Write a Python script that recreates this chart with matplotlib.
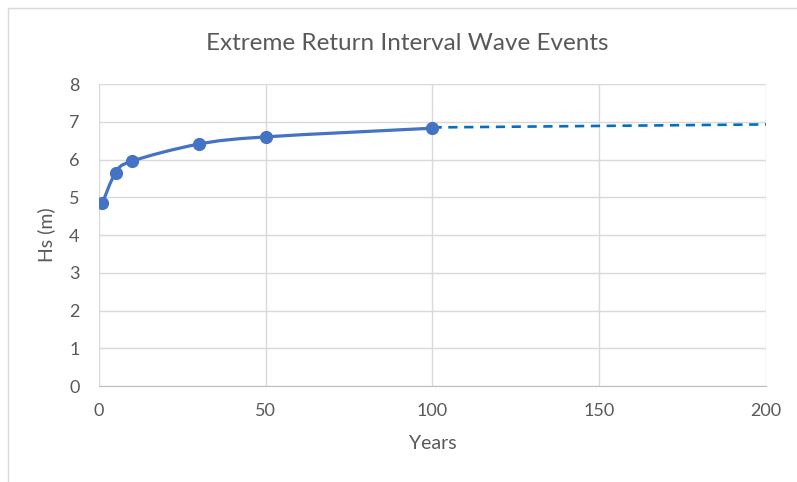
import numpy as np
import matplotlib
matplotlib.use('Agg')
import matplotlib.pyplot as plt
from matplotlib.path import Path
from matplotlib.patches import PathPatch, Rectangle

# return period (years) vs significant wave height
years = [1, 5, 10, 30, 50, 100]
hs = [4.84, 5.65, 5.96, 6.41, 6.60, 6.83]

# trendline extension past 100 years
trend_years = [100, 200]
trend_hs = [6.85, 6.93]

x_ticks = [0, 50, 100, 150, 200]
y_ticks = [0, 1, 2, 3, 4, 5, 6, 7, 8]

plt.rcParams['font.family'] = ['Lato', 'DejaVu Sans']
text_col = '#595959'
line_col = '#4472C4'
trend_col = '#0070C0'
grid_col = '#D9D9D9'

fig = plt.figure(figsize=(7.97, 4.82), dpi=100)
ax = fig.add_axes([0.1242, 0.199, 0.8369, 0.6267])

# chart border like Excel
fig.patches.append(Rectangle((8 / 797, -0.1), 1.2, (482 - 8) / 482 + 0.1,
                             transform=fig.transFigure, fill=False,
                             edgecolor=grid_col, linewidth=1))

# smoothed line (Catmull-Rom style bezier, like Excel's smoothed line)
pts = np.column_stack([years, hs]).astype(float)
verts = [pts[0]]
codes = [Path.MOVETO]
n = len(pts)
for i in range(n - 1):
    p0 = pts[i - 1] if i > 0 else pts[i]
    p1 = pts[i]
    p2 = pts[i + 1]
    p3 = pts[i + 2] if i + 2 < n else pts[i + 1]
    c1 = p1 + (p2 - p0) / 6
    c2 = p2 - (p3 - p1) / 6
    verts += [c1, c2, p2]
    codes += [Path.CURVE4] * 3
ax.add_patch(PathPatch(Path(verts, codes), fill=False, edgecolor=line_col,
                       linewidth=2.3, zorder=3, capstyle='round'))
ax.plot(years, hs, linestyle='none', marker='o', markersize=8.5,
        color=line_col, zorder=4)

ax.plot(trend_years, trend_hs, linestyle=(0, (3.5, 2.5)), color=trend_col,
        linewidth=1.9, zorder=3)

ax.set_xlim(0, 200)
ax.set_ylim(0, 8)
ax.set_xticks(x_ticks)
ax.set_yticks(y_ticks)
ax.grid(True, color=grid_col, linewidth=1)
ax.set_axisbelow(True)
for s in ['top', 'right', 'left']:
    ax.spines[s].set_visible(False)
ax.spines['bottom'].set_color('#BFBFBF')
ax.tick_params(length=0, labelsize=13, colors=text_col)
ax.tick_params(axis='x', pad=12)
ax.tick_params(axis='y', pad=14)

ax.set_xlabel('Years', fontsize=14, color=text_col, labelpad=12)
ax.set_ylabel('Hs (m)', fontsize=14, color=text_col, labelpad=10)
fig.text(407 / 797, 1 - 44 / 482, 'Extreme Return Interval Wave Events',
         fontsize=17.5, color=text_col, ha='center', va='center')

fig.savefig('out.png', dpi=100)
